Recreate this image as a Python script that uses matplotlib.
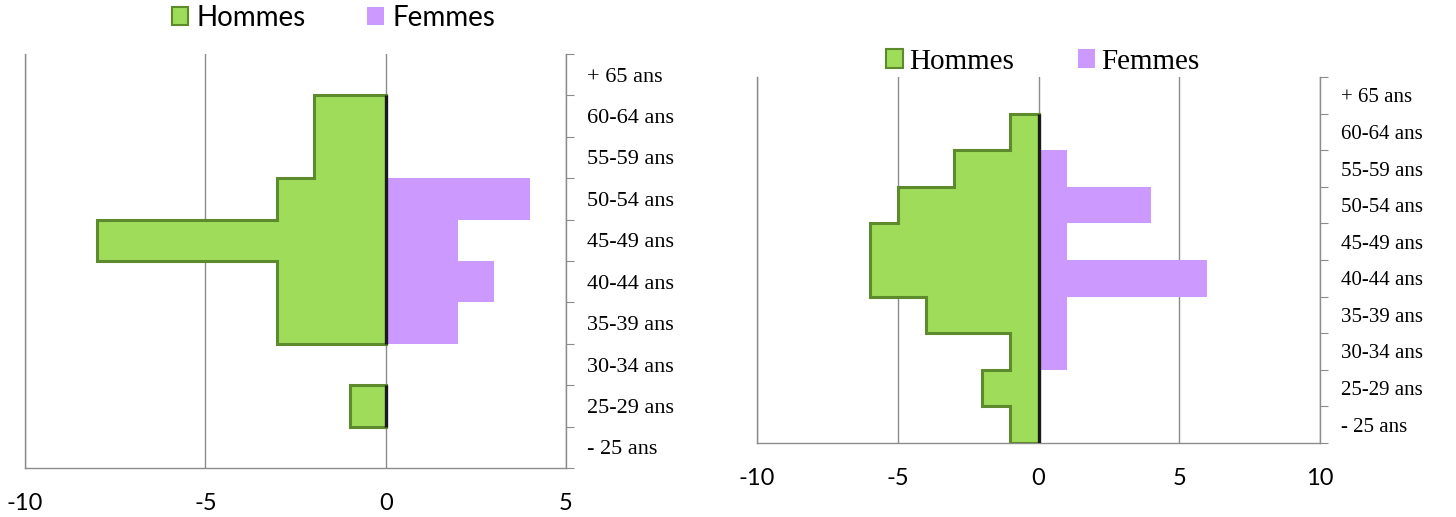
import numpy as np
import matplotlib
matplotlib.use("Agg")
import matplotlib.pyplot as plt
import matplotlib.patches as mpatches

# ── Data (bottom -> top) ──────────────────────────────────────────────────────
AGES = ["- 25 ans", "25-29 ans", "30-34 ans", "35-39 ans", "40-44 ans",
        "45-49 ans", "50-54 ans", "55-59 ans", "60-64 ans", "+ 65 ans"]

LEFT_HOMMES = [0, -1, 0, -3, -3, -8, -3, -2, -2, 0]
LEFT_FEMMES = [0, 0, 0, 2, 3, 2, 4, 0, 0, 0]
LEFT_XTICKS = [-10, -5, 0, 5]

RIGHT_HOMMES = [-1, -2, -1, -4, -6, -6, -5, -3, -1, 0]
RIGHT_FEMMES = [0, 0, 1, 1, 6, 1, 4, 1, 0, 0]
RIGHT_XTICKS = [-10, -5, 0, 5, 10]

GREEN = '#9EDC5A'
GREEN_DK = '#5E8A2E'
PURPLE = '#CC99FF'
GRID = '#8C8C8C'


def pyramid(ax, hommes, femmes, xticks, lab_size, lab_family, tick_family):
    y = np.arange(len(AGES))
    ax.barh(y, hommes, height=1.0, color=GREEN, edgecolor='none', zorder=2)
    ax.barh(y, femmes, height=1.0, color=PURPLE, edgecolor='none', zorder=2)

    # bevel-ish outline of the men's silhouette, one path per run of bars
    runs, cur = [], []
    for i, v in enumerate(hommes):
        if v != 0:
            cur.append(i)
        elif cur:
            runs.append(cur)
            cur = []
    if cur:
        runs.append(cur)
    for run in runs:
        yy = [run[0] - 0.5]
        xx = [0]
        for i in run:
            yy += [i - 0.5, i + 0.5]
            xx += [hommes[i], hommes[i]]
        yy.append(run[-1] + 0.5)
        xx.append(0)
        ax.plot(xx, yy, color=GREEN_DK, lw=2.2, zorder=3, solid_joinstyle='miter')
        # dark right edge of the men's bars
        ax.plot([0, 0], [run[0] - 0.5, run[-1] + 0.5], color='#1a1a1a', lw=2.4,
                zorder=4, solid_capstyle='butt')

    ax.set_xlim(xticks[0], xticks[-1])
    ax.set_ylim(-0.5, len(AGES) - 0.5)
    ax.set_xticks(xticks)
    ax.set_xticklabels([str(t) for t in xticks], fontsize=17, family=tick_family)
    ax.tick_params(axis='x', length=0, pad=18)
    ax.grid(axis='x', color=GRID, lw=1, zorder=0)

    ax.yaxis.tick_right()
    ax.set_yticks(np.arange(len(AGES) + 1) - 0.5)
    ax.set_yticklabels([])
    ax.set_yticks(y, minor=True)
    ax.set_yticklabels(AGES, minor=True, fontsize=lab_size, family=lab_family,
                       ha='left')
    ax.tick_params(axis='y', which='major', length=6, color=GRID, direction='out')
    ax.tick_params(axis='y', which='minor', length=0, pad=15)

    ax.spines['top'].set_visible(False)
    for s in ('left', 'right', 'bottom'):
        ax.spines[s].set_color(GRID)
        ax.spines[s].set_linewidth(1)


fig = plt.figure(figsize=(14.56, 5.17), dpi=100)

axL = fig.add_axes([25 / 1456, 1 - 468 / 517, 541 / 1456, 414 / 517])
pyramid(axL, LEFT_HOMMES, LEFT_FEMMES, LEFT_XTICKS, 16, 'Liberation Serif', 'Lato')

axR = fig.add_axes([757 / 1456, 1 - 443 / 517, 563 / 1456, 366 / 517])
pyramid(axR, RIGHT_HOMMES, RIGHT_FEMMES, RIGHT_XTICKS, 15, 'Liberation Serif', 'Lato')

handles = [mpatches.Patch(facecolor=GREEN, edgecolor=GREEN_DK, lw=1.5, label='Hommes'),
           mpatches.Patch(facecolor=PURPLE, edgecolor='none', label='Femmes')]

fig.legend(handles=handles, loc='center', bbox_to_anchor=(0.229, 0.965), ncol=2,
           frameon=False, prop={'family': 'Lato', 'size': 20},
           handlelength=0.6, handleheight=0.6, handletextpad=0.3, columnspacing=2.2)
fig.legend(handles=handles, loc='center', bbox_to_anchor=(0.716, 0.88), ncol=2,
           frameon=False, prop={'family': 'Liberation Serif', 'size': 21},
           handlelength=0.6, handleheight=0.6, handletextpad=0.2, columnspacing=2.2)

fig.savefig('out.png', dpi=100)
